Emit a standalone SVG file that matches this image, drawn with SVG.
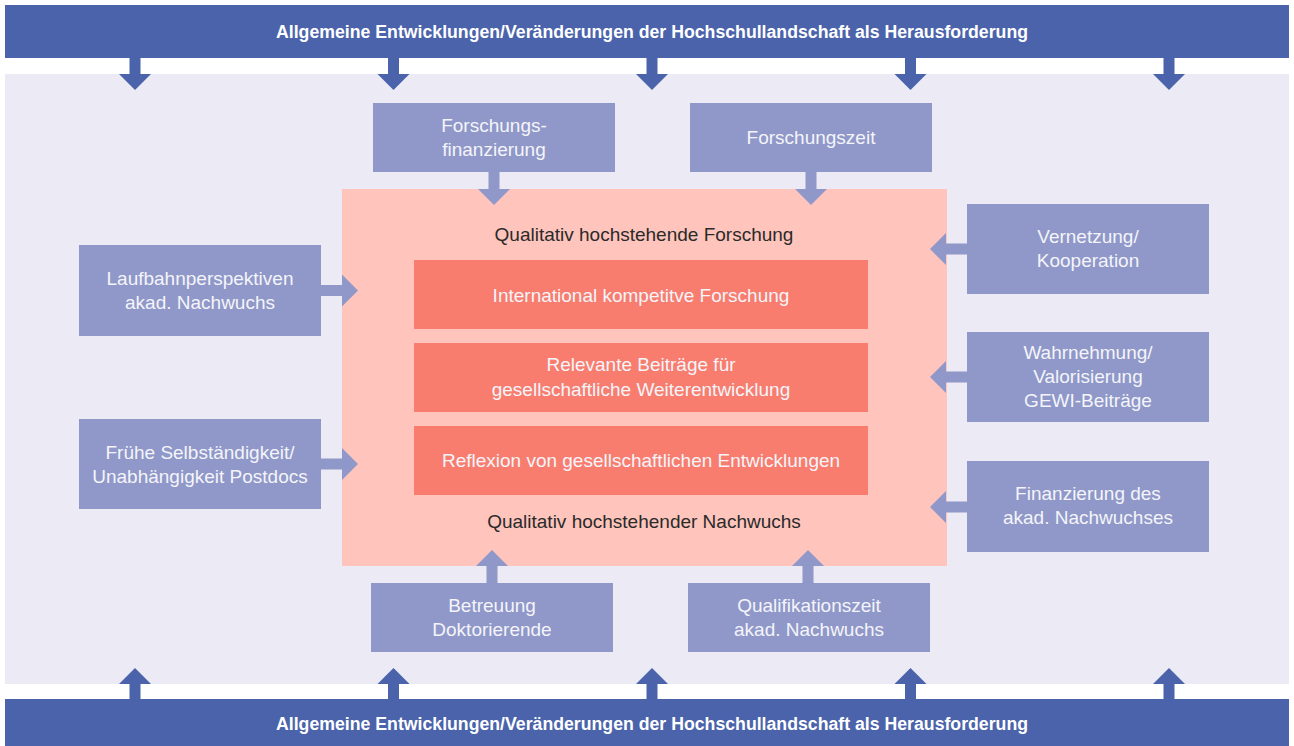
<svg xmlns="http://www.w3.org/2000/svg" width="1294" height="746" viewBox="0 0 1294 746">
<style>
.bar{fill:#4a63ab}
.bg{fill:#ebeaf5}
.box{fill:#8f98c8}
.core{fill:#ffc5bc}
.inner{fill:#f87d6e}
.barArrow{fill:#4a63ab}
.boxArrow{fill:#8f98c8}
.hdr{font-family:"Liberation Sans",Arial,sans-serif;font-weight:bold;font-size:18px;fill:#ffffff;text-anchor:middle}
.lbl{font-family:"Liberation Sans",Arial,sans-serif;font-size:19px;fill:#f4f4fa;text-anchor:middle}
.dark{font-family:"Liberation Sans",Arial,sans-serif;font-size:19px;fill:#2a2a2a;text-anchor:middle}
</style>
<rect x="0" y="0" width="1294" height="746" fill="#ffffff"/>
<rect class="bg" x="5" y="74" width="1284" height="610"/>

<g id="top-bar">
<rect class="bar" x="5" y="5" width="1284" height="53"/>
<text class="hdr" x="652" y="38" textLength="752" lengthAdjust="spacingAndGlyphs">Allgemeine Entwicklungen/Veränderungen der Hochschullandschaft als Herausforderung</text>
</g>
<g id="bottom-bar">
<rect class="bar" x="5" y="699" width="1284" height="47"/>
<text class="hdr" x="652" y="730" textLength="752" lengthAdjust="spacingAndGlyphs">Allgemeine Entwicklungen/Veränderungen der Hochschullandschaft als Herausforderung</text>
</g>

<g id="core">
<rect class="core" x="342" y="189" width="605" height="377"/>
<text class="dark" x="644" y="241">Qualitativ hochstehende Forschung</text>
<text class="dark" x="644" y="528">Qualitativ hochstehender Nachwuchs</text>
</g>
<g id="inner-1">
<rect class="inner" x="414" y="260" width="454" height="69"/>
<text class="lbl" x="641" y="302">International kompetitve Forschung</text>
</g>
<g id="inner-2">
<rect class="inner" x="414" y="343" width="454" height="69"/>
<text class="lbl" x="641" y="371">Relevante Beiträge für</text>
<text class="lbl" x="641" y="396">gesellschaftliche Weiterentwicklung</text>
</g>
<g id="inner-3">
<rect class="inner" x="414" y="426" width="454" height="69"/>
<text class="lbl" x="641" y="467">Reflexion von gesellschaftlichen Entwicklungen</text>
</g>

<g id="forschungsfinanzierung">
<rect class="box" x="373" y="103" width="242" height="69"/>
<text class="lbl" x="494" y="132">Forschungs-</text>
<text class="lbl" x="494" y="156">finanzierung</text>
</g>
<g id="forschungszeit">
<rect class="box" x="690" y="103" width="242" height="69"/>
<text class="lbl" x="811" y="144">Forschungszeit</text>
</g>
<g id="vernetzung">
<rect class="box" x="967" y="204" width="242" height="90"/>
<text class="lbl" x="1088" y="243">Vernetzung/</text>
<text class="lbl" x="1088" y="267">Kooperation</text>
</g>
<g id="wahrnehmung">
<rect class="box" x="967" y="332" width="242" height="90"/>
<text class="lbl" x="1088" y="359">Wahrnehmung/</text>
<text class="lbl" x="1088" y="383">Valorisierung</text>
<text class="lbl" x="1088" y="407">GEWI-Beiträge</text>
</g>
<g id="finanzierung">
<rect class="box" x="967" y="461" width="242" height="91"/>
<text class="lbl" x="1088" y="500">Finanzierung des</text>
<text class="lbl" x="1088" y="524">akad. Nachwuchses</text>
</g>
<g id="laufbahn">
<rect class="box" x="79" y="245" width="242" height="91"/>
<text class="lbl" x="200" y="285">Laufbahnperspektiven</text>
<text class="lbl" x="200" y="309">akad. Nachwuchs</text>
</g>
<g id="fruehe">
<rect class="box" x="79" y="419" width="242" height="90"/>
<text class="lbl" x="200" y="459">Frühe Selbständigkeit/</text>
<text class="lbl" x="200" y="483">Unabhängigkeit Postdocs</text>
</g>
<g id="betreuung">
<rect class="box" x="371" y="583" width="242" height="69"/>
<text class="lbl" x="492" y="612">Betreuung</text>
<text class="lbl" x="492" y="636">Doktorierende</text>
</g>
<g id="qualifikationszeit">
<rect class="box" x="688" y="583" width="242" height="69"/>
<text class="lbl" x="809" y="612">Qualifikationszeit</text>
<text class="lbl" x="809" y="636">akad. Nachwuchs</text>
</g>

<g id="connectors">
<!-- top bar arrows down -->
<path class="barArrow" d="M129.5 58H140.5V74H151L135 90L119 74H129.5Z"/>
<path class="barArrow" d="M388 58H399V74H409.5L393.5 90L377.5 74H388Z"/>
<path class="barArrow" d="M646.5 58H657.5V74H668L652 90L636 74H646.5Z"/>
<path class="barArrow" d="M905 58H916V74H926.5L910.5 90L894.5 74H905Z"/>
<path class="barArrow" d="M1163.5 58H1174.5V74H1185L1169 90L1153 74H1163.5Z"/>
<!-- bottom bar arrows up -->
<path class="barArrow" d="M129.5 699H140.5V684H151L135 668L119 684H129.5Z"/>
<path class="barArrow" d="M388 699H399V684H409.5L393.5 668L377.5 684H388Z"/>
<path class="barArrow" d="M646.5 699H657.5V684H668L652 668L636 684H646.5Z"/>
<path class="barArrow" d="M905 699H916V684H926.5L910.5 668L894.5 684H905Z"/>
<path class="barArrow" d="M1163.5 699H1174.5V684H1185L1169 668L1153 684H1163.5Z"/>
<!-- into core -->
<path class="boxArrow" d="M488.5 172H499.5V189H510L494 205L478 189H488.5Z"/>
<path class="boxArrow" d="M805.5 172H816.5V189H827L811 205L795 189H805.5Z"/>
<path class="boxArrow" d="M486.5 583H497.5V566H508L492 550L476 566H486.5Z"/>
<path class="boxArrow" d="M802.5 583H813.5V566H824L808 550L792 566H802.5Z"/>
<path class="boxArrow" d="M321 285H342V274.5L358 290.5L342 306.5V296H321Z"/>
<path class="boxArrow" d="M321 458.5H342V448L358 464L342 480V469.5H321Z"/>
<path class="boxArrow" d="M967 243.5H946V233L930 249L946 265V254.5H967Z"/>
<path class="boxArrow" d="M967 371.5H946V361L930 377L946 393V382.5H967Z"/>
<path class="boxArrow" d="M967 501.5H946V491L930 507L946 523V512.5H967Z"/>
</g>
</svg>
